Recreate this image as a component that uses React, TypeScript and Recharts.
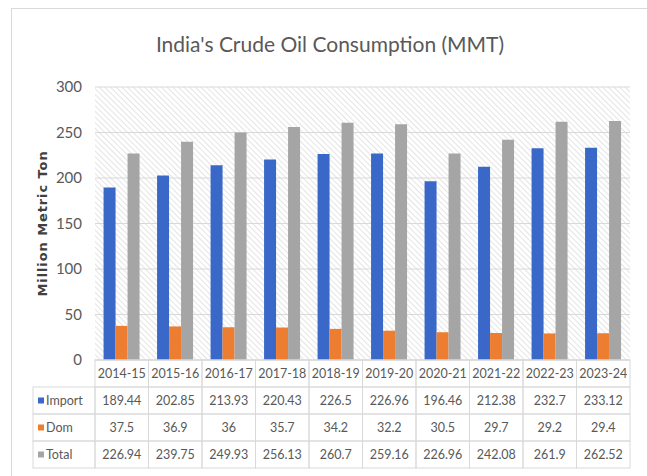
import { BarChart, Bar, XAxis, YAxis, CartesianGrid } from "recharts";

const categories = ["2014-15", "2015-16", "2016-17", "2017-18", "2018-19", "2019-20", "2020-21", "2021-22", "2022-23", "2023-24"];
const importVals = [189.44, 202.85, 213.93, 220.43, 226.5, 226.96, 196.46, 212.38, 232.7, 233.12];
const domVals = [37.5, 36.9, 36, 35.7, 34.2, 32.2, 30.5, 29.7, 29.2, 29.4];
const totalVals = [226.94, 239.75, 249.93, 256.13, 260.7, 259.16, 226.96, 242.08, 261.9, 262.52];
const yTicks = [0, 50, 100, 150, 200, 250, 300];

const seriesNames = ["Import", "Dom", "Total"];
const seriesColors = ["#3a68c8", "#ed7d31", "#a5a5a5"];
const seriesVals = [importVals, domVals, totalVals];

const data = categories.map((c, i) => ({
  name: c,
  Import: importVals[i],
  Dom: domVals[i],
  Total: totalVals[i],
}));

const FONT = "Lato, 'Liberation Sans', Arial, sans-serif";
const COLW = 53.5;
const ROWH = 27;
const BORDER = "#d9d9d9";
const TXT = "#595959";

// draws one column of the data table under each category
function TableTick(props: any) {
  const { x, y, payload } = props;
  const i = payload.index;
  const left = x - COLW / 2;
  const cells = [];
  cells.push(
    <g key="head">
      <rect x={left} y={y} width={COLW} height={ROWH} fill="none" stroke={BORDER} />
      <text x={x} y={y + ROWH / 2 + 4.5} textAnchor="middle" fontSize={12.5} fill={TXT} fontFamily={FONT}>
        {payload.value}
      </text>
    </g>
  );
  seriesVals.forEach((vals, r) => {
    const ry = y + ROWH * (r + 1);
    cells.push(
      <g key={r}>
        <rect x={left} y={ry} width={COLW} height={ROWH} fill="none" stroke={BORDER} />
        <text x={x} y={ry + ROWH / 2 + 4.5} textAnchor="middle" fontSize={12.5} fill={TXT} fontFamily={FONT}>
          {String(vals[i])}
        </text>
      </g>
    );
  });
  // row headers left of the first column
  if (i === 0) {
    seriesNames.forEach((n, r) => {
      const ry = y + ROWH * (r + 1);
      cells.push(
        <g key={"h" + r}>
          <rect x={left - 62} y={ry} width={62} height={ROWH} fill="none" stroke={BORDER} />
          <rect x={left - 57} y={ry + ROWH / 2 - 3} width={6} height={6} fill={seriesColors[r]} />
          <text x={left - 49} y={ry + ROWH / 2 + 4.5} fontSize={12.5} fill={TXT} fontFamily={FONT}>
            {n}
          </text>
        </g>
      );
    });
  }
  return <g>{cells}</g>;
}

export default function App() {
  return (
    <div style={{ position: "absolute", left: 0, top: 0, width: 647, height: 476, overflow: "hidden", background: "#fff" }}>
      <div style={{ position: "absolute", left: 11, top: 8, width: 700, height: 500, border: "1px solid #d9d9d9" }} />
      <div
        style={{
          position: "absolute",
          left: 0,
          top: 31,
          width: 660,
          textAlign: "center",
          fontFamily: FONT,
          fontSize: 21,
          color: TXT,
        }}
      >
        India's Crude Oil Consumption (MMT)
      </div>
      <div style={{ position: "absolute", left: 0, top: 0 }}>
        <BarChart
          width={647}
          height={476}
          data={data}
          margin={{ top: 87, right: 17, left: 35, bottom: 6 }}
          barCategoryGap="16%"
          barGap={0}
        >
          <defs>
            <pattern id="hatch" width="4" height="4" patternUnits="userSpaceOnUse" patternTransform="rotate(-45)">
              <rect width="4" height="4" fill="#ffffff" />
              <line x1="0" y1="0" x2="0" y2="4" stroke="#dcdcdc" strokeWidth="1.5" />
            </pattern>
          </defs>
          <CartesianGrid vertical={false} stroke={BORDER} fill="url(#hatch)" />
          <XAxis
            dataKey="name"
            height={110}
            tickLine={false}
            tickSize={0}
            tickMargin={0}
            axisLine={{ stroke: BORDER }}
            interval={0}
            tick={<TableTick />}
          />
          <YAxis
            domain={[0, 300]}
            ticks={yTicks}
            width={60}
            axisLine={false}
            tickLine={false}
            tickMargin={7}
            tick={{ fontSize: 15, fill: TXT, fontFamily: FONT }}
            label={{
              value: "Million Metric Ton",
              angle: -90,
              position: "insideLeft",
              offset: 7,
              style: {
                fontSize: 13,
                fontWeight: "bold",
                letterSpacing: 0.9,
                fill: "#404040",
                fontFamily: "'DejaVu Sans', sans-serif",
                textAnchor: "middle",
              },
            }}
          />
          <Bar dataKey="Import" fill={seriesColors[0]} isAnimationActive={false} />
          <Bar dataKey="Dom" fill={seriesColors[1]} isAnimationActive={false} />
          <Bar dataKey="Total" fill={seriesColors[2]} isAnimationActive={false} />
        </BarChart>
      </div>
    </div>
  );
}
